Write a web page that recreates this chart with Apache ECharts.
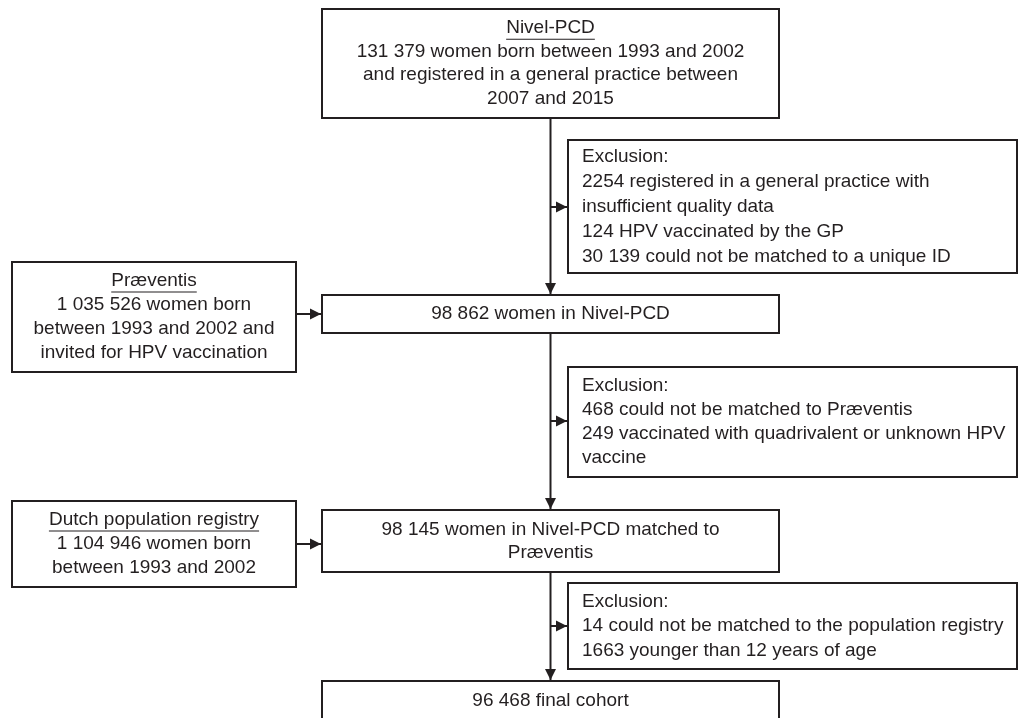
<!DOCTYPE html>
<html>
<head>
<meta charset="utf-8">
<script src="https://cdn.jsdelivr.net/npm/echarts@6/dist/echarts.min.js"></script>
<style>
  html, body {margin: 0; padding: 0; background: #fff;}
  #chart {width: 1023px; height: 718px;}
</style>
</head>
<body>
<div id="chart"></div>
<script>
// flow steps (main column), top to bottom
const stepTitles = ['Nivel-PCD', '', '', ''];
const stepLines = [
  ['131 379 women born between 1993 and 2002', 'and registered in a general practice between', '2007 and 2015'],
  ['98 862 women in Nivel-PCD'],
  ['98 145 women in Nivel-PCD matched to', 'Præventis'],
  ['96 468 final cohort']
];

// exclusions between the steps
const exclusionLines = [
  ['Exclusion:', '2254 registered in a general practice with', 'insufficient quality data', '124 HPV vaccinated by the GP', '30 139 could not be matched to a unique ID'],
  ['Exclusion:', '468 could not be matched to Præventis', '249 vaccinated with quadrivalent or unknown HPV', 'vaccine'],
  ['Exclusion:', '14 could not be matched to the population registry', '1663 younger than 12 years of age']
];

// external sources joined into step 2 and step 3
const sourceTitles = ['Præventis', 'Dutch population registry'];
const sourceLines = [
  ['1 035 526 women born', 'between 1993 and 2002 and', 'invited for HPV vaccination'],
  ['1 104 946 women born', 'between 1993 and 2002']
];

// ---- layout ----
const INK = '#231f20';
const FONT = '19px "Liberation Sans", Arial, sans-serif';
const LW = 2;
const mainX = 322, mainW = 457, mainC = 550.5;
const stepBoxes = [
  {y: 9, h: 109, lh: 23.5},
  {y: 295, h: 38, lh: 24},
  {y: 510, h: 62, lh: 23},
  {y: 681, h: 80, lh: 24, textTop: 701}
];
const exclX = 568, exclW = 449;
const exclBoxes = [
  {y: 140, h: 133, lh: 25, arrowY: 207},
  {y: 367, h: 110, lh: 24, arrowY: 421},
  {y: 583, h: 86, lh: 24.5, arrowY: 626}
];
const srcX = 12, srcW = 284;
const srcBoxes = [
  {y: 262, h: 110, lh: 24, target: 1, arrowY: 314},
  {y: 501, h: 86, lh: 24, target: 2, arrowY: 544}
];

const measure = document.createElement('canvas').getContext('2d');
measure.font = FONT;

const elements = [];

function box(x, y, w, h) {
  elements.push({
    type: 'rect', z: 1,
    shape: {x: x, y: y, width: w, height: h},
    style: {fill: '#fff', stroke: INK, lineWidth: LW}
  });
}

function text(str, x, y, align, underline) {
  elements.push({
    type: 'text', z: 3, x: x, y: y,
    style: {text: str, font: FONT, fill: INK, align: align, verticalAlign: 'middle'}
  });
  if (underline) {
    const w = measure.measureText(str).width;
    const x0 = align === 'center' ? x - w / 2 : x;
    elements.push({
      type: 'line', z: 3,
      shape: {x1: x0, y1: y + 11, x2: x0 + w, y2: y + 11},
      style: {stroke: INK, lineWidth: 1.2}
    });
  }
}

function block(title, lines, x, y, h, lh, align, textTop) {
  const all = title ? [title].concat(lines) : lines;
  const first = textTop != null ? textTop : y + h / 2 - (all.length - 1) * lh / 2;
  all.forEach((s, i) => text(s, x, first + i * lh, align, title && i === 0));
}

function line(x1, y1, x2, y2) {
  elements.push({
    type: 'line', z: 2,
    shape: {x1: x1, y1: y1, x2: x2, y2: y2},
    style: {stroke: INK, lineWidth: LW}
  });
}

function head(x, y, dir) {
  const L = 11, W = 5.5;
  const pts = dir === 'down'
    ? [[x, y], [x - W, y - L], [x + W, y - L]]
    : [[x, y], [x - L, y - W], [x - L, y + W]];
  elements.push({
    type: 'polygon', z: 2,
    shape: {points: pts},
    style: {fill: INK}
  });
}

// main column boxes
stepBoxes.forEach((b, i) => {
  box(mainX, b.y, mainW, b.h);
  block(stepTitles[i], stepLines[i], mainC, b.y, b.h, b.lh, 'center', b.textTop);
});

// vertical connectors with exclusion arrows
for (let i = 0; i < exclBoxes.length; i++) {
  const from = stepBoxes[i], to = stepBoxes[i + 1], e = exclBoxes[i];
  line(mainC, from.y + from.h, mainC, to.y - 1);
  head(mainC, to.y - 1, 'down');
  box(exclX, e.y, exclW, e.h);
  block('', exclusionLines[i], exclX + 14, e.y, e.h, e.lh, 'left');
  line(mainC, e.arrowY, exclX - 1, e.arrowY);
  head(exclX - 1, e.arrowY, 'right');
}

// external sources
srcBoxes.forEach((b, i) => {
  box(srcX, b.y, srcW, b.h);
  block(sourceTitles[i], sourceLines[i], srcX + srcW / 2, b.y, b.h, b.lh, 'center');
  line(srcX + srcW, b.arrowY, mainX - 1, b.arrowY);
  head(mainX - 1, b.arrowY, 'right');
});

const chart = echarts.init(document.getElementById('chart'));
chart.setOption({
  animation: false,
  backgroundColor: '#fff',
  graphic: {elements: elements}
});
</script>
</body>
</html>
